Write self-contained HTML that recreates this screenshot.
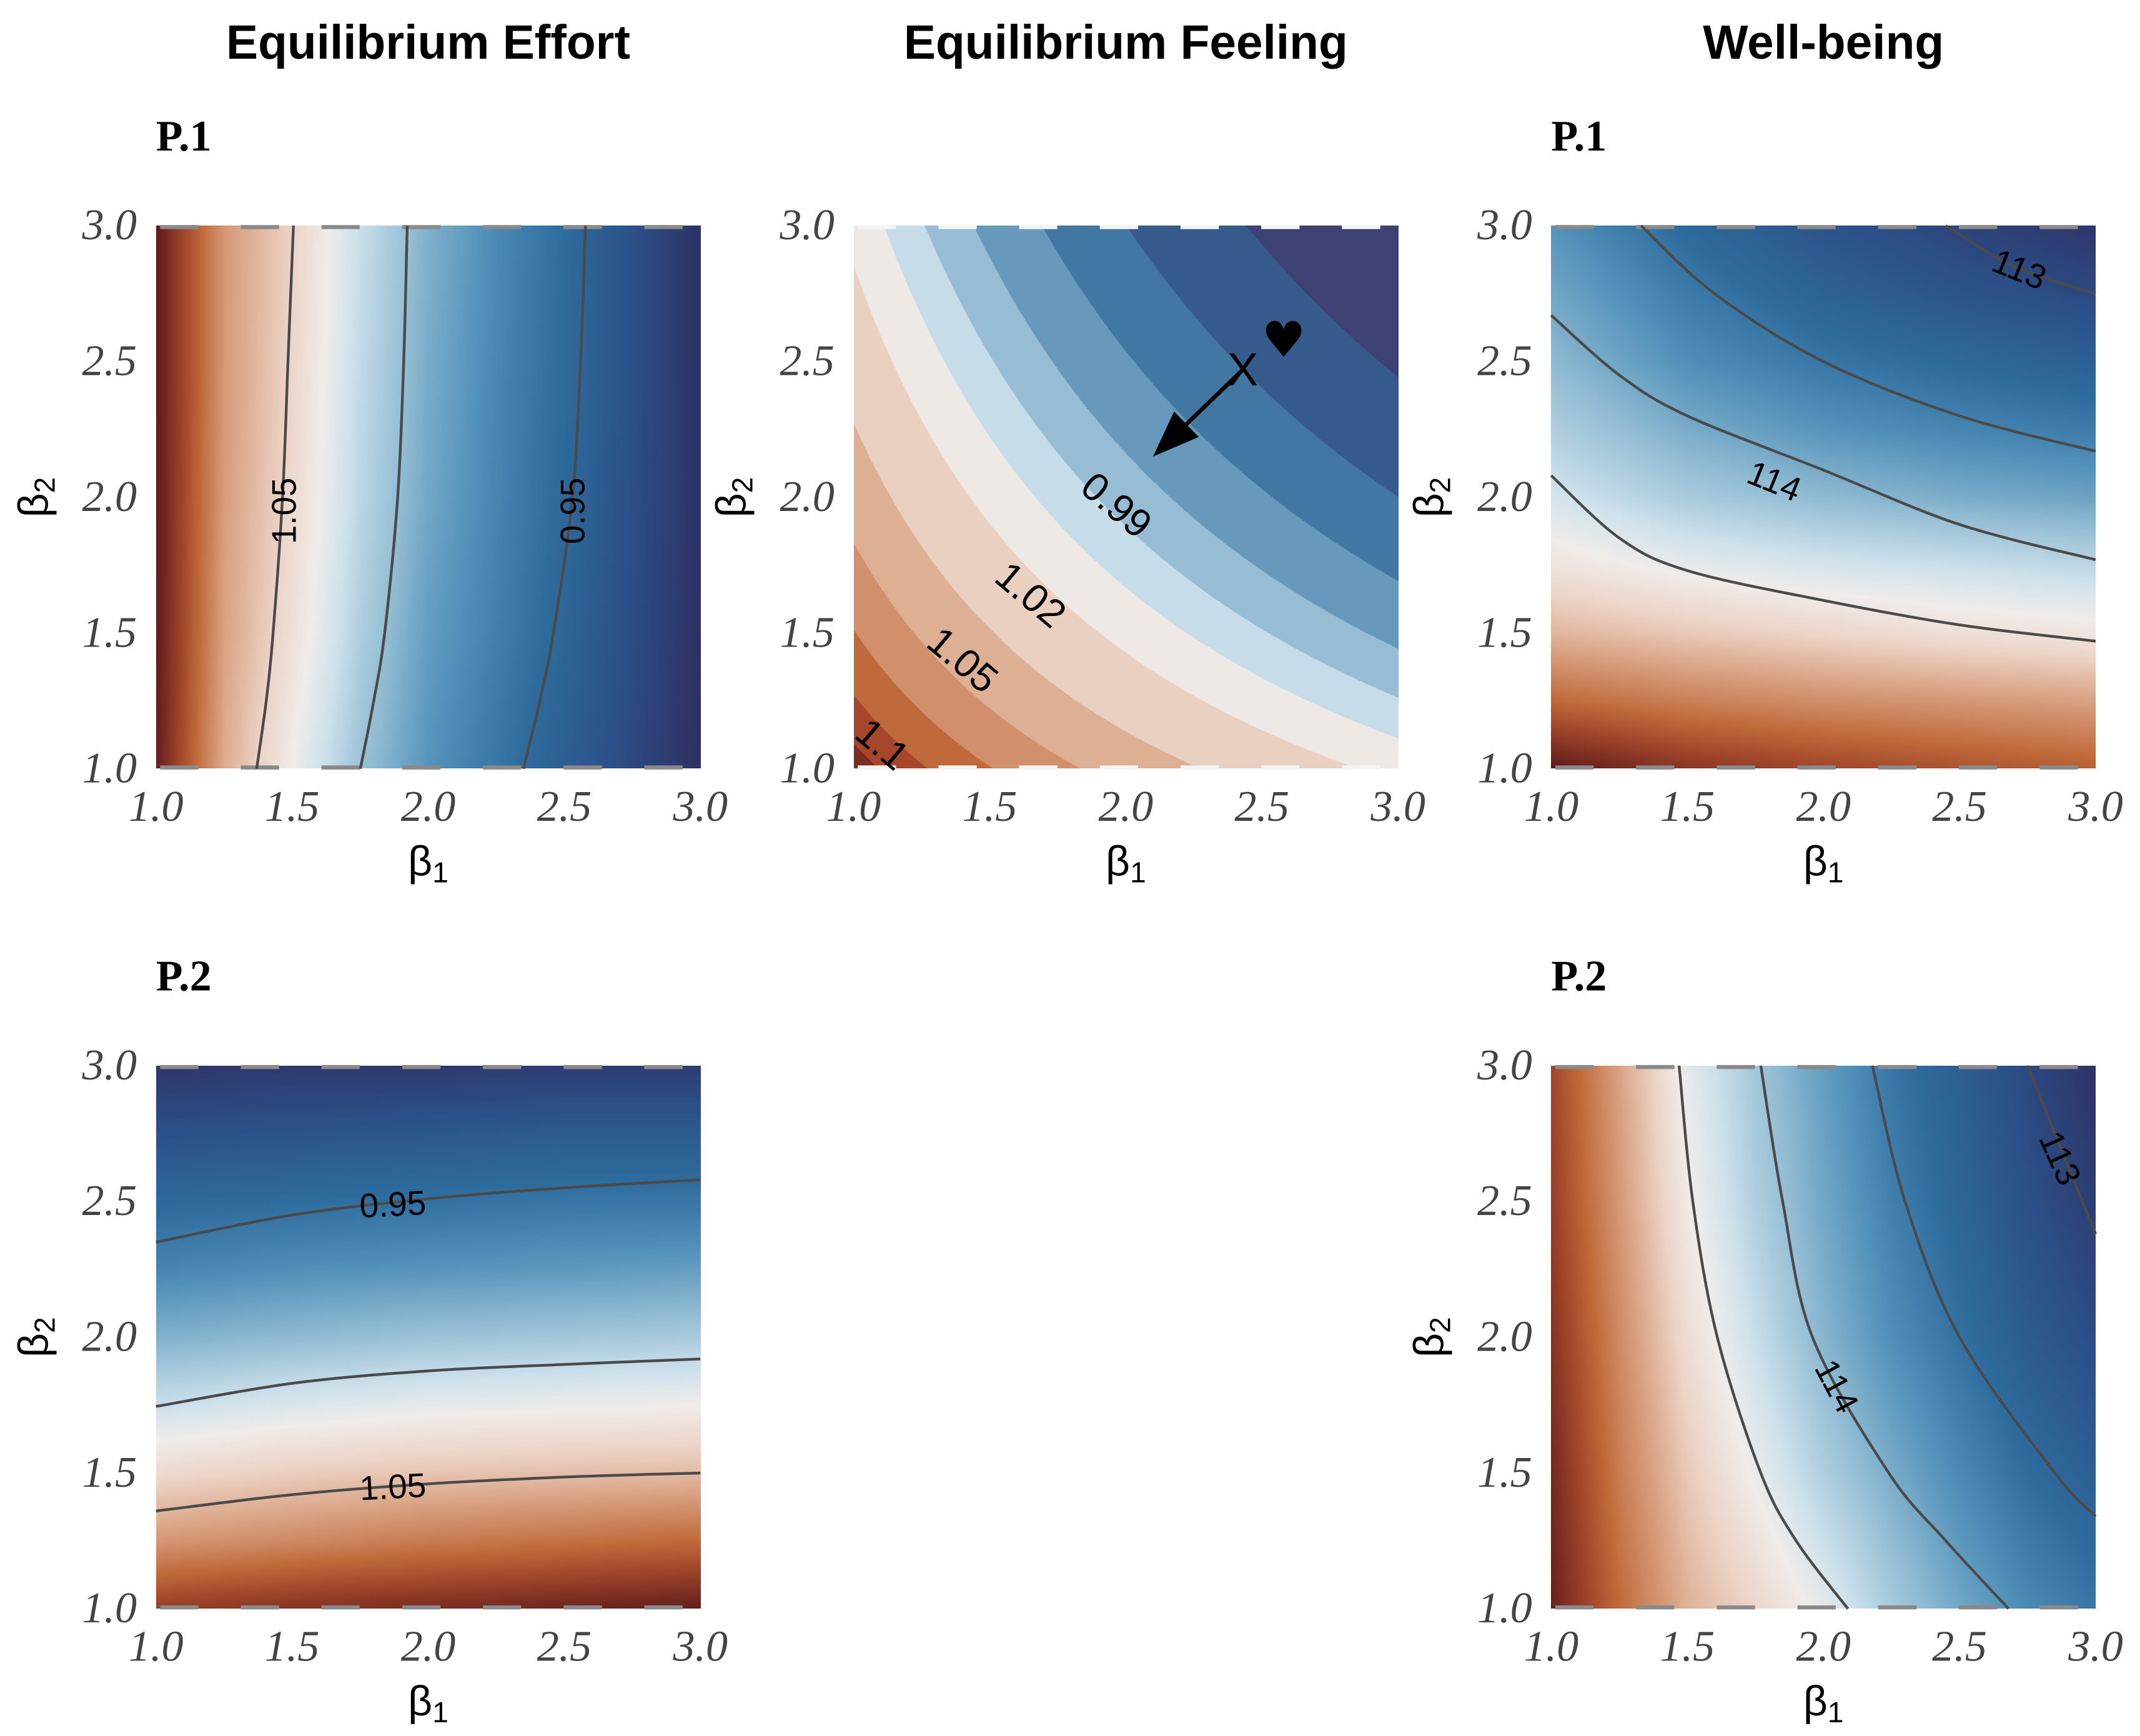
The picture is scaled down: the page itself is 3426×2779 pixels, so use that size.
<!DOCTYPE html>
<html><head><meta charset="utf-8">
<style>
html,body{margin:0;padding:0;background:#fff;}
#root{position:relative;width:3426px;height:2779px;overflow:hidden;background:#fff;}
canvas{position:absolute;}
#overlay{position:absolute;left:0;top:0;}
</style></head>
<body>
<div id="root">
<svg id="overlay" width="3426" height="2779" viewBox="0 0 1564.4 1269" xmlns="http://www.w3.org/2000/svg"></svg>
</div>
<script>
// ---- data ----
const betaTicks = [1.0, 1.5, 2.0, 2.5, 3.0];
const tickLabels = ["1.0", "1.5", "2.0", "2.5", "3.0"];
const columnTitles = ["Equilibrium Effort", "Equilibrium Feeling", "Well-being"];

const effortP1_b1 = [1, 1.25, 1.5, 1.75, 2, 2.25, 2.5, 2.75, 3];
const effortP1_b2 = [1, 1.5, 2, 2.5, 3];
const effortP1_field = [
  [0.01,0.34,0.50,0.64,0.74,0.80,0.86,0.92,0.99],
  [0.00,0.32,0.46,0.61,0.72,0.78,0.84,0.91,0.985],
  [0.00,0.31,0.44,0.59,0.70,0.77,0.83,0.905,0.98],
  [0.00,0.30,0.43,0.58,0.69,0.765,0.825,0.90,0.98],
  [0.00,0.30,0.42,0.57,0.68,0.76,0.82,0.90,0.98]
];
const effortP2_b1 = [1, 1.5, 2, 2.5, 3];
const effortP2_b2 = [1, 1.25, 1.5, 1.75, 2, 2.25, 2.5, 2.75, 3];
const effortP2_field = [
  [0.10,0.07,0.05,0.03,0.01],
  [0.30,0.27,0.24,0.22,0.20],
  [0.44,0.41,0.39,0.38,0.37],
  [0.57,0.54,0.52,0.51,0.50],
  [0.68,0.66,0.64,0.63,0.62],
  [0.77,0.75,0.74,0.73,0.72],
  [0.83,0.82,0.81,0.80,0.80],
  [0.90,0.89,0.88,0.87,0.87],
  [0.97,0.96,0.96,0.95,0.95]
];
const wellP1_b1 = [1, 1.5, 2, 2.5, 3];
const wellP1_b2 = [1, 1.25, 1.5, 1.75, 2, 2.25, 2.5, 2.75, 3];
const wellP1_field = [
  [0.00,0.08,0.12,0.15,0.18],
  [0.20,0.25,0.28,0.30,0.32],
  [0.36,0.40,0.43,0.46,0.48],
  [0.47,0.52,0.55,0.57,0.59],
  [0.55,0.62,0.66,0.69,0.71],
  [0.61,0.69,0.74,0.77,0.79],
  [0.66,0.75,0.80,0.83,0.86],
  [0.70,0.79,0.85,0.89,0.92],
  [0.74,0.83,0.89,0.93,0.97]
];
const wellP2_b1 = [1, 1.25, 1.5, 1.75, 2, 2.25, 2.5, 2.75, 3];
const wellP2_b2 = [1, 1.5, 2, 2.5, 3];
const wellP2_field = [
  [0.02,0.20,0.35,0.43,0.52,0.62,0.70,0.76,0.80],
  [0.04,0.24,0.40,0.51,0.61,0.69,0.76,0.82,0.86],
  [0.07,0.27,0.45,0.57,0.67,0.75,0.81,0.87,0.91],
  [0.10,0.30,0.49,0.61,0.70,0.78,0.84,0.90,0.95],
  [0.12,0.32,0.52,0.63,0.72,0.80,0.86,0.92,0.98]
];

const feelingProduct = [1.0,1.09,1.27,1.51,1.83,2.27,2.85,3.33,3.78,4.32,5.07,6.0,7.32,9.0];
const feelingValue = [1.125,1.115,1.1,1.085,1.07,1.055,1.04,1.025,1.01,0.995,0.98,0.965,0.95,0.935];
const feelingLevels = [1.115,1.1,1.085,1.07,1.055,1.04,1.025,1.01,0.995,0.98,0.965,0.95];
const feelingBandColors = ["#7a2b22","#a6472c","#c06a3c","#d18f6c","#ddaf93","#ead0c0","#eee9e5","#c6dce9","#97bdd4","#6699bc","#4277a4","#375a8c","#3d4173"];
const feelingLabels = [
  {text:"1.1", b1:1.105, b2:1.09},
  {text:"1.05", b1:1.40, b2:1.40},
  {text:"1.02", b1:1.65, b2:1.64},
  {text:"0.99", b1:1.965, b2:1.97}
];
const feelingX = {b1:2.43, b2:2.47};
const feelingHeart = {b1:2.58, b2:2.58};
const feelingArrowTip = {b1:2.10, b2:2.15};

const effortP1_lines = [
  {label:"1.05", lb1:1.47, lb2:1.95, rot:-90, b1:[1.505,1.485,1.465,1.43,1.405,1.37], b2:[3,2.5,2,1.5,1.25,1]},
  {label:"", b1:[1.923,1.91,1.888,1.84,1.80,1.751], b2:[3,2.5,2,1.5,1.25,1]},
  {label:"0.95", lb1:2.53, lb2:1.95, rot:-90, b1:[2.578,2.56,2.53,2.46,2.41,2.35], b2:[3,2.5,2,1.5,1.25,1]}
];
const effortP2_lines = [
  {label:"0.95", lb1:1.87, lb2:2.49, rot:-3, b1:[1,1.5,2,2.5,3], b2:[2.35,2.45,2.51,2.55,2.58]},
  {label:"", b1:[1,1.5,2,2.5,3], b2:[1.745,1.83,1.876,1.90,1.92]},
  {label:"1.05", lb1:1.87, lb2:1.45, rot:-3, b1:[1,1.5,2,2.5,3], b2:[1.36,1.42,1.46,1.485,1.50]}
];
const wellP1_lines = [
  {label:"", b1:[1.33,1.6,2.0,2.5,3], b2:[3,2.75,2.5,2.3,2.17]},
  {label:"113", lb1:2.72, lb2:2.84, rot:22, b1:[2.45,2.7,3], b2:[3,2.85,2.75]},
  {label:"114", lb1:1.82, lb2:2.06, rot:22, b1:[1,1.25,1.5,2,2.5,3], b2:[2.67,2.45,2.3,2.1,1.9,1.77]},
  {label:"", b1:[1,1.25,1.5,2,2.5,3], b2:[2.08,1.85,1.73,1.62,1.53,1.47]}
];
const wellP2_lines = [
  {label:"", b1:[1.47,1.52,1.61,1.77,1.9,2.09], b2:[3,2.5,2,1.5,1.25,1]},
  {label:"114", lb1:2.05, lb2:1.82, rot:62, b1:[1.77,1.85,1.96,2.24,2.45,2.68], b2:[3,2.5,2,1.5,1.25,1]},
  {label:"", b1:[2.18,2.3,2.5,2.85,3], b2:[3,2.5,2,1.5,1.34]},
  {label:"113", lb1:2.87, lb2:2.66, rot:66, b1:[2.75,2.85,3], b2:[3,2.75,2.38]}
];

// ---- layout ----
const S = 3426/1564.4;
const NS = "http://www.w3.org/2000/svg";
const svg = document.getElementById('overlay');
const root = document.getElementById('root');
const PW = 398, PH = 397;
const panels = [
  {id:"effort-p1", L:114, T:165, tag:"P.1", kind:"field", b1s:effortP1_b1, b2s:effortP1_b2, field:effortP1_field, lines:effortP1_lines},
  {id:"feeling-p1", L:624, T:165, tag:null, kind:"feeling"},
  {id:"wellbeing-p1", L:1134, T:165, tag:"P.1", kind:"field", b1s:wellP1_b1, b2s:wellP1_b2, field:wellP1_field, lines:wellP1_lines},
  {id:"effort-p2", L:114, T:779, tag:"P.2", kind:"field", b1s:effortP2_b1, b2s:effortP2_b2, field:effortP2_field, lines:effortP2_lines},
  {id:"wellbeing-p2", L:1134, T:779, tag:"P.2", kind:"field", b1s:wellP2_b1, b2s:wellP2_b2, field:wellP2_field, lines:wellP2_lines}
];

const cmap = [
  [0.00,[94,26,28]],[0.12,[160,69,42]],[0.20,[192,105,58]],[0.32,[217,162,131]],
  [0.42,[236,211,198]],[0.50,[240,236,234]],[0.56,[207,226,236]],[0.66,[143,186,210]],
  [0.75,[79,143,184]],[0.82,[46,108,158]],[0.90,[44,80,137]],[1.00,[47,43,92]]
];
function colorAt(t){
  t=Math.max(0,Math.min(1,t));
  for(let i=1;i<cmap.length;i++){
    if(t<=cmap[i][0]){
      const a=cmap[i-1],b=cmap[i],f=(t-a[0])/(b[0]-a[0]);
      return [0,1,2].map(k=>a[1][k]+(b[1][k]-a[1][k])*f);
    }
  }
  return cmap[cmap.length-1][1];
}
function idx(arr,v){
  let i=0; while(i<arr.length-2 && v>arr[i+1]) i++;
  return [i,(v-arr[i])/(arr[i+1]-arr[i])];
}
function bilinear(xs,ys,g,x,y){
  const [i,fx]=idx(xs,x),[j,fy]=idx(ys,y);
  const a=g[j][i]+(g[j][i+1]-g[j][i])*fx, b=g[j+1][i]+(g[j+1][i+1]-g[j+1][i])*fx;
  return a+(b-a)*fy;
}
function interp1(xs,ys,x){
  const [i,f]=idx(xs,x); return ys[i]+(ys[i+1]-ys[i])*f;
}
function el(tag,attrs,parent){
  const e=document.createElementNS(NS,tag);
  for(const k in attrs) e.setAttribute(k,attrs[k]);
  (parent||svg).appendChild(e); return e;
}
function hex(c){return [1,3,5].map(i=>parseInt(c.substr(i,2),16));}
function smoothPath(P){
  let d='M'+P[0][0].toFixed(1)+','+P[0][1].toFixed(1);
  for(let i=0;i<P.length-1;i++){
    const p0=P[Math.max(0,i-1)],p1=P[i],p2=P[i+1],p3=P[Math.min(P.length-1,i+2)];
    const c1=[p1[0]+(p2[0]-p0[0])/6,p1[1]+(p2[1]-p0[1])/6];
    const c2=[p2[0]-(p3[0]-p1[0])/6,p2[1]-(p3[1]-p1[1])/6];
    d+=` C${c1[0].toFixed(1)},${c1[1].toFixed(1)} ${c2[0].toFixed(1)},${c2[1].toFixed(1)} ${p2[0].toFixed(1)},${p2[1].toFixed(1)}`;
  }
  return d;
}

const titleX=[313,823,1333];
columnTitles.forEach((t,i)=>{
  const e=el('text',{x:titleX[i],y:43,'text-anchor':'middle','font-family':'"Liberation Sans",sans-serif','font-weight':'bold','font-size':35,fill:'#000'});
  e.textContent=t;
  
  
});

panels.forEach(p=>{
  const L=p.L,T=p.T;
  const ax=b1=>L+(b1-1)/2*PW;
  const ay=b2=>T+PH-(b2-1)/2*PH;
  const cv=document.createElement('canvas');
  const cw=Math.round(PW*S), ch=Math.round(PH*S);
  cv.width=cw; cv.height=ch;
  cv.style.left=Math.round(L*S)+'px'; cv.style.top=Math.round(T*S)+'px';
  
  
  root.insertBefore(cv,svg);
  const ctx=cv.getContext('2d'); const img=ctx.createImageData(cw,ch); const d=img.data;
  const bandRGB=feelingBandColors.map(hex);
  for(let y=0;y<ch;y++){
    const b2=3-2*(y+0.5)/ch;
    for(let x=0;x<cw;x++){
      const b1=1+2*(x+0.5)/cw;
      let c;
      if(p.kind==='feeling'){
        const f=interp1(feelingProduct,feelingValue,b1*b2);
        let band=0; for(const lv of feelingLevels) if(f<lv) band++;
        c=bandRGB[band];
      } else c=colorAt(bilinear(p.b1s,p.b2s,p.field,b1,b2));
      const o=(y*cw+x)*4; d[o]=c[0];d[o+1]=c[1];d[o+2]=c[2];d[o+3]=255;
    }
  }
  ctx.putImageData(img,0,0);

  const g=el('g',{});
  
  
  const dcol=p.kind==='feeling'?'#f4f4f4':'#8a8a8a';
  [T+1,T+PH-1].forEach((yy,k)=>{
    const ln=el('line',{x1:L,x2:L+PW,y1:yy,y2:yy,stroke:dcol,'stroke-width':3,'stroke-dasharray':'28 31','stroke-dashoffset':-3},g);
    
    
  });
  if(p.lines){
    p.lines.forEach((cl,ci)=>{
      const pts=cl.b1.map((v,i)=>[ax(v),ay(cl.b2[i])]);
      const pl=el('path',{d:smoothPath(pts),fill:'none',stroke:'#4a4a4a','stroke-width':2},g);
      
      
      if(cl.label){
        const cx=ax(cl.lb1),cy=ay(cl.lb2);
        const bg=el('text',{x:cx,y:cy,'text-anchor':'middle','dominant-baseline':'central','font-family':'"Liberation Sans",sans-serif','font-size':25,fill:'#000',transform:`rotate(${cl.rot} ${cx} ${cy})`},g);
        bg.textContent=cl.label;
        
        
      }
    });
  }
  if(p.kind==='feeling'){
    feelingLabels.forEach(fl=>{
      const cx=ax(fl.b1),cy=ay(fl.b2);
      const t=el('text',{x:cx,y:cy,'text-anchor':'middle','dominant-baseline':'central','font-family':'"Liberation Sans",sans-serif','font-size':29,fill:'#000',transform:`rotate(40 ${cx} ${cy})`},g);
      t.textContent=fl.text;
      
      
    });
    const x0=ax(feelingX.b1),y0=ay(feelingX.b2),x1=ax(feelingArrowTip.b1),y1=ay(feelingArrowTip.b2);
    const ang=Math.atan2(y1-y0,x1-x0),hl=34,hw=13;
    const bx=x1-hl*Math.cos(ang),by=y1-hl*Math.sin(ang);
    const ar=el('line',{x1:x0,y1:y0,x2:bx,y2:by,stroke:'#000','stroke-width':3},g);
    
    
    const px=-Math.sin(ang),py=Math.cos(ang);
    const hd=el('polygon',{points:`${x1},${y1} ${bx+hw*px},${by+hw*py} ${bx-hw*px},${by-hw*py}`,fill:'#000'},g);
    
    
    const xm=el('text',{x:x0,y:y0,'text-anchor':'middle','dominant-baseline':'central','font-family':'"Liberation Sans",sans-serif','font-size':34,fill:'#000'},g);
    xm.textContent='X';
    
    
    const ht=el('text',{x:ax(feelingHeart.b1),y:ay(feelingHeart.b2),'text-anchor':'middle','dominant-baseline':'central','font-family':'"DejaVu Sans",sans-serif','font-size':36,fill:'#000'},g);
    ht.textContent='\u2665';
    
    
  }
  betaTicks.forEach((v,i)=>{
    const tx=el('text',{x:ax(v),y:T+PH+38,'text-anchor':'middle','font-family':'"Liberation Serif",serif','font-style':'italic','font-size':32,fill:'#444'},g);
    tx.textContent=tickLabels[i];
    
    
    const ty=el('text',{x:L-14,y:ay(v)+10,'text-anchor':'end','font-family':'"Liberation Serif",serif','font-style':'italic','font-size':32,fill:'#444'},g);
    ty.textContent=tickLabels[i];
    
    
  });
  const xl=el('text',{x:L+PW/2,y:T+PH+78,'text-anchor':'middle','font-family':'"Liberation Sans",sans-serif','font-size':31,fill:'#000'},g);
  xl.innerHTML='\u03b2<tspan font-size="21" dy="5">1</tspan>';
  
  
  const yx=L-79, yy=T+PH/2;
  const yl=el('text',{x:yx,y:yy,'text-anchor':'middle','font-family':'"Liberation Sans",sans-serif','font-size':31,fill:'#000',transform:`rotate(-90 ${yx} ${yy})`},g);
  yl.innerHTML='\u03b2<tspan font-size="21" dy="5">2</tspan>';
  
  
  if(p.tag){
    const tg=el('text',{x:L,y:T-55,'font-family':'"Liberation Serif",serif','font-weight':'bold','font-size':32,fill:'#000'},g);
    tg.textContent=p.tag;
    
    
  }
});
</script>
</body></html>
